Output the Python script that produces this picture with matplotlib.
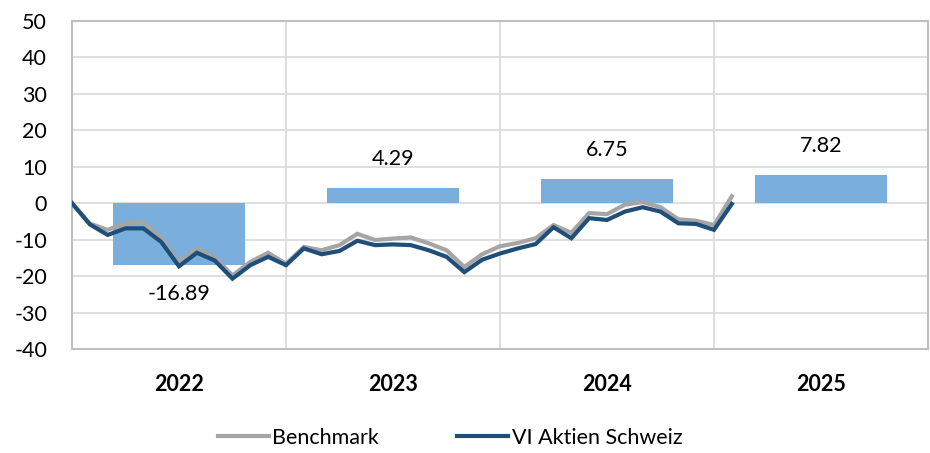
import matplotlib
matplotlib.use("Agg")
import matplotlib.pyplot as plt
import numpy as np

years = ["2022", "2023", "2024", "2025"]
annual_returns = [-16.89, 4.29, 6.75, 7.82]

fund = [0, -5.8, -8.7, -6.9, -6.9, -10.6, -17.3, -13.6, -15.7, -20.7, -17.0, -14.7,
        -17.0, -12.4, -14.0, -13.1, -10.3, -11.5, -11.3, -11.5, -12.9, -14.7, -18.9, -15.5,
        -13.8, -12.4, -11.2, -6.6, -9.6, -4.1, -4.6, -2.3, -1.1, -2.3, -5.5, -5.7,
        -7.3, -0.2]
benchmark = [0, -5.6, -7.3, -5.5, -5.2, -9.6, -16.1, -12.4, -14.9, -19.8, -16.1, -13.6,
             -16.6, -12.0, -12.9, -11.5, -8.4, -10.1, -9.7, -9.4, -11.0, -12.9, -17.5, -14.0,
             -11.8, -10.9, -9.6, -6.0, -8.1, -2.7, -3.0, -0.4, 0.3, -1.1, -4.4, -4.8,
             -6.0, 1.9]
yticks = [-40, -30, -20, -10, 0, 10, 20, 30, 40, 50]

plt.rcParams['font.family'] = ['Lato', 'DejaVu Sans']
FS = 15.5

fig = plt.figure(figsize=(9.3, 4.53), dpi=100)
ax = fig.add_axes([72/930, (453-349)/453, (928-72)/930, (349-21)/453])

grid_c = "#D9D9D9"
xc = np.arange(len(years)) + 0.5
ax.bar(xc, annual_returns, width=0.62, color="#7AAEDC", zorder=2)

xm = np.arange(len(fund)) / 12.0
ax.plot(xm, benchmark, color="#A5A5A5", lw=3.0, zorder=3, label="Benchmark",
        solid_joinstyle="miter")
ax.plot(xm, fund, color="#1F4E79", lw=3.0, zorder=4, label="VI Aktien Schweiz",
        solid_joinstyle="miter")

for x, v in zip(xc, annual_returns):
    off = 20.5 if v >= 0 else -21.0
    ax.annotate(f"{v:.2f}", (x, v), xytext=(0, off), textcoords="offset points",
                ha="center", va="center", fontsize=FS, color="black")

ax.set_xlim(0, 4)
ax.set_ylim(-40, 50)
ax.set_yticks(yticks)
ax.set_yticklabels([str(t) for t in yticks], fontsize=FS)
ax.set_xticks(xc)
ax.set_xticklabels(years, fontsize=FS, fontweight="bold")
ax.tick_params(axis="y", length=0, pad=18)
ax.tick_params(axis="x", length=0, pad=18)

for t in yticks:
    ax.axhline(t, color=grid_c, lw=1.2, zorder=1)
for b in [1, 2, 3]:
    ax.axvline(b, color=grid_c, lw=1.2, zorder=1)
for s in ax.spines.values():
    s.set_color("#BFBFBF")
    s.set_linewidth(1.5)

leg = fig.legend(loc="center", bbox_to_anchor=(450/930, 1 - 438/453), ncol=2,
                 frameon=False, fontsize=FS, handlelength=2.4, handletextpad=0.15,
                 columnspacing=3.6)

fig.savefig("out.png", dpi=100)
